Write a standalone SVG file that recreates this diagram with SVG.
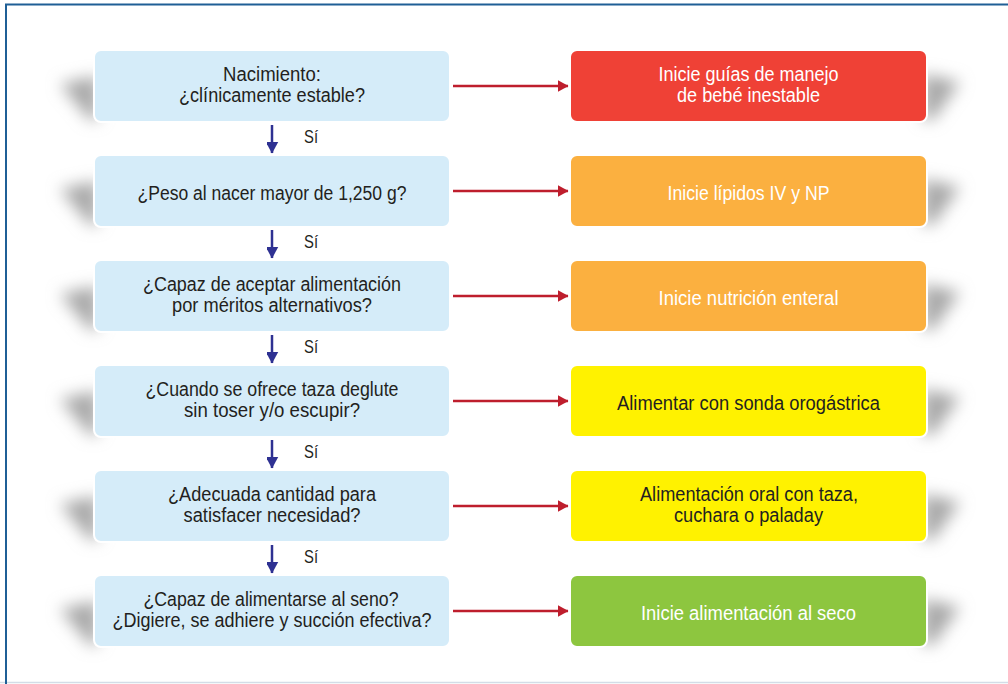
<svg xmlns="http://www.w3.org/2000/svg" width="1008" height="684" viewBox="0 0 1008 684">
<style>
.q{fill:#d5ecf9;stroke:#fff;stroke-width:2}
.r{stroke:#fff;stroke-width:2}
.t{font-family:"Liberation Sans Narrow","Liberation Sans",Arial,sans-serif;font-size:20px;text-anchor:middle;fill:#231f20}
.w{fill:#fff}
.sh{fill:#a8a8a8}
.ra{stroke:#be1e2d;stroke-width:2.5;fill:none;marker-end:url(#rh)}
.ba{stroke:#2e3192;stroke-width:2.5;fill:none;marker-end:url(#bh)}
.si{font-family:"Liberation Sans Narrow","Liberation Sans",Arial,sans-serif;font-size:18px;fill:#231f20}
</style>
<defs>
<filter id="blur" x="-1" y="-1" width="3" height="3"><feGaussianBlur stdDeviation="8"/></filter>
<marker id="rh" markerWidth="11" markerHeight="12" refX="10.5" refY="6" orient="auto" markerUnits="userSpaceOnUse"><path d="M0,0 L11,6 L0,12 Z" fill="#be1e2d"/></marker>
<marker id="bh" markerWidth="13" markerHeight="12" refX="11.5" refY="6.5" orient="auto" markerUnits="userSpaceOnUse"><path d="M0,0 L12,6.5 L0,13 Z" fill="#2e3192"/></marker>
</defs>
<rect width="1008" height="684" fill="#fff"/>
<line x1="0" y1="682.5" x2="1008" y2="682.5" stroke="#d3dde7" stroke-width="1.5"/>
<path d="M6,684 V4.5 H1008" fill="none" stroke="#1f5f96" stroke-width="2"/>
<g id="shadows" filter="url(#blur)">
<polygon class="sh" points="98,76 60,84 90,120 98,120"/>
<polygon class="sh" points="923,74 960,82 933,120 923,120"/>
<polygon class="sh" points="98,181 60,189 90,225 98,225"/>
<polygon class="sh" points="923,179 960,187 933,225 923,225"/>
<polygon class="sh" points="98,286 60,294 90,330 98,330"/>
<polygon class="sh" points="923,284 960,292 933,330 923,330"/>
<polygon class="sh" points="98,391 60,399 90,435 98,435"/>
<polygon class="sh" points="923,389 960,397 933,435 923,435"/>
<polygon class="sh" points="98,496 60,504 90,540 98,540"/>
<polygon class="sh" points="923,494 960,502 933,540 923,540"/>
<polygon class="sh" points="98,601 60,609 90,645 98,645"/>
<polygon class="sh" points="923,599 960,607 933,645 923,645"/>
</g>
<g id="connectors">
<line class="ra" x1="453" y1="86" x2="568" y2="86"/>
<line class="ra" x1="453" y1="191" x2="568" y2="191"/>
<line class="ra" x1="453" y1="296" x2="568" y2="296"/>
<line class="ra" x1="453" y1="401" x2="568" y2="401"/>
<line class="ra" x1="453" y1="506" x2="568" y2="506"/>
<line class="ra" x1="453" y1="611" x2="568" y2="611"/>
<line class="ba" x1="272" y1="125" x2="272" y2="153"/>
<line class="ba" x1="272" y1="230" x2="272" y2="258"/>
<line class="ba" x1="272" y1="335" x2="272" y2="363"/>
<line class="ba" x1="272" y1="440" x2="272" y2="468"/>
<line class="ba" x1="272" y1="545" x2="272" y2="573"/>
<text class="si" x="304" y="143" textLength="14" lengthAdjust="spacingAndGlyphs">Sí</text>
<text class="si" x="304" y="248" textLength="14" lengthAdjust="spacingAndGlyphs">Sí</text>
<text class="si" x="304" y="353" textLength="14" lengthAdjust="spacingAndGlyphs">Sí</text>
<text class="si" x="304" y="458" textLength="14" lengthAdjust="spacingAndGlyphs">Sí</text>
<text class="si" x="304" y="563" textLength="14" lengthAdjust="spacingAndGlyphs">Sí</text>
</g>
<g id="q1"><rect class="q" x="94" y="50" width="356" height="72" rx="7"/>
<text class="t" x="272" y="81" textLength="98" lengthAdjust="spacingAndGlyphs">Nacimiento:</text>
<text class="t" x="272" y="102" textLength="186" lengthAdjust="spacingAndGlyphs">¿clínicamente estable?</text></g>
<g id="a1"><rect class="r" x="570" y="50" width="357" height="72" rx="7" fill="#ef4136"/>
<text class="t w" x="748.5" y="81" textLength="180" lengthAdjust="spacingAndGlyphs">Inicie guías de manejo</text>
<text class="t w" x="748.5" y="102" textLength="143" lengthAdjust="spacingAndGlyphs">de bebé inestable</text></g>
<g id="q2"><rect class="q" x="94" y="155" width="356" height="72" rx="7"/>
<text class="t" x="272" y="200" textLength="269" lengthAdjust="spacingAndGlyphs">¿Peso al nacer mayor de 1,250 g?</text></g>
<g id="a2"><rect class="r" x="570" y="155" width="357" height="72" rx="7" fill="#fbb040"/>
<text class="t w" x="748.5" y="200" textLength="162" lengthAdjust="spacingAndGlyphs">Inicie lípidos IV y NP</text></g>
<g id="q3"><rect class="q" x="94" y="260" width="356" height="72" rx="7"/>
<text class="t" x="272" y="291" textLength="258" lengthAdjust="spacingAndGlyphs">¿Capaz de aceptar alimentación</text>
<text class="t" x="272" y="312" textLength="200" lengthAdjust="spacingAndGlyphs">por méritos alternativos?</text></g>
<g id="a3"><rect class="r" x="570" y="260" width="357" height="72" rx="7" fill="#fbb040"/>
<text class="t w" x="748.5" y="305" textLength="180" lengthAdjust="spacingAndGlyphs">Inicie nutrición enteral</text></g>
<g id="q4"><rect class="q" x="94" y="365" width="356" height="72" rx="7"/>
<text class="t" x="272" y="396" textLength="253" lengthAdjust="spacingAndGlyphs">¿Cuando se ofrece taza deglute</text>
<text class="t" x="272" y="417" textLength="176" lengthAdjust="spacingAndGlyphs">sin toser y/o escupir?</text></g>
<g id="a4"><rect class="r" x="570" y="365" width="357" height="72" rx="7" fill="#fff200"/>
<text class="t" x="748.5" y="410" textLength="263" lengthAdjust="spacingAndGlyphs">Alimentar con sonda orogástrica</text></g>
<g id="q5"><rect class="q" x="94" y="470" width="356" height="72" rx="7"/>
<text class="t" x="272" y="501" textLength="208" lengthAdjust="spacingAndGlyphs">¿Adecuada cantidad para</text>
<text class="t" x="272" y="522" textLength="177" lengthAdjust="spacingAndGlyphs">satisfacer necesidad?</text></g>
<g id="a5"><rect class="r" x="570" y="470" width="357" height="72" rx="7" fill="#fff200"/>
<text class="t" x="749" y="501" textLength="218" lengthAdjust="spacingAndGlyphs">Alimentación oral con taza,</text>
<text class="t" x="748.5" y="522" textLength="149" lengthAdjust="spacingAndGlyphs">cuchara o paladay</text></g>
<g id="q6"><rect class="q" x="94" y="575" width="356" height="72" rx="7"/>
<text class="t" x="271" y="606" textLength="255" lengthAdjust="spacingAndGlyphs">¿Capaz de alimentarse al seno?</text>
<text class="t" x="272" y="627" textLength="319" lengthAdjust="spacingAndGlyphs">¿Digiere, se adhiere y succión efectiva?</text></g>
<g id="a6"><rect class="r" x="570" y="575" width="357" height="72" rx="7" fill="#8dc63f"/>
<text class="t w" x="748.5" y="620" textLength="215" lengthAdjust="spacingAndGlyphs">Inicie alimentación al seco</text></g>
</svg>
